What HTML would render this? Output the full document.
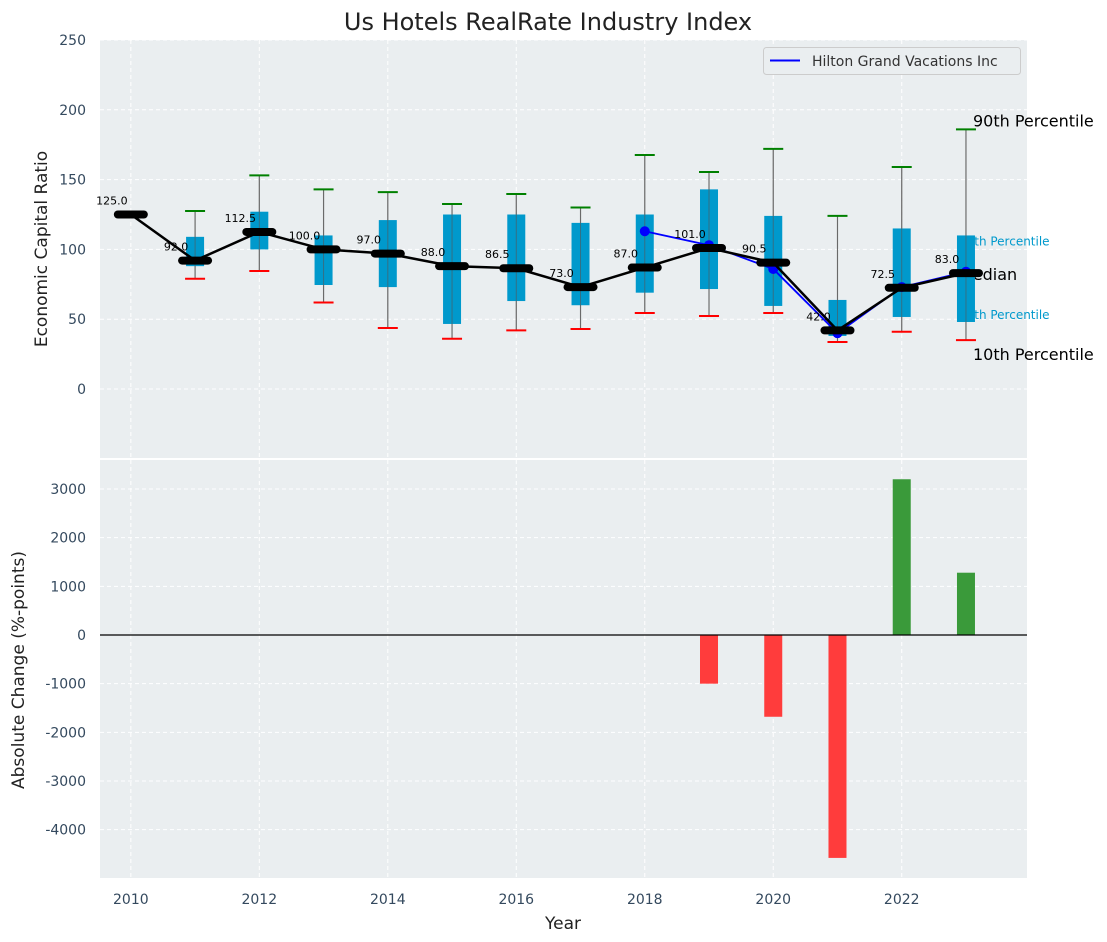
<!DOCTYPE html>
<html><head><meta charset="utf-8"><style>
body{margin:0;background:#fff;}
svg{display:block;font-family:"DejaVu Sans","Liberation Sans",sans-serif;}
</style></head><body>
<svg id="chart" width="1107" height="942" xmlns="http://www.w3.org/2000/svg"></svg>
<script>
const years=[2010,2011,2012,2013,2014,2015,2016,2017,2018,2019,2020,2021,2022,2023];
const medians=[125,92,112.5,100,97,88,86.5,73,87,101,90.5,42,72.5,83];
const boxYears=[2011,2012,2013,2014,2015,2016,2017,2018,2019,2020,2021,2022,2023];
const p10=[79,84.5,62,43.7,36,42,43,54.4,52.3,54.4,33.7,41,35];
const p25=[88,100,74.5,73,46.6,63,60,69,71.6,59.5,38,51.6,48];
const p75=[109,127,110,121,125,125,119,125,143,124,63.8,115,110];
const p90=[127.5,153,143,141,132.5,139.7,130,167.6,155.4,172,124,159,186];
const hgvYears=[2018,2019,2020,2021,2022,2023];
const hgvValues=[113,103,86,40,73,84];
const chgYears=[2019,2020,2021,2022,2023];
const chgValues=[-1000,-1680,-4580,3200,1280];
const topTicks=[0,50,100,150,200,250];
const botTicks=[-4000,-3000,-2000,-1000,0,1000,2000,3000];
const xTicks=[2010,2012,2014,2016,2018,2020,2022];

const svg=document.getElementById('chart');
const NS='http://www.w3.org/2000/svg';
function el(tag,attrs,parent,text){const e=document.createElementNS(NS,tag);for(const k in attrs)e.setAttribute(k,attrs[k]);if(text!==undefined)e.textContent=text;(parent||svg).appendChild(e);return e;}
const L=100,R=1027,T1=40,B1=458,T2=460,B2=878;
const xmin=2009.52,xmax=2023.95;
const X=v=>L+(v-xmin)/(xmax-xmin)*(R-L);
const Y1=v=>389-v*1.396;
const Y2=v=>635-v*0.04867;

let g;
g=el('rect',{x:L,y:T1,width:R-L,height:B1-T1,fill:'#eaeef0'});

g=el('rect',{x:L,y:T2,width:R-L,height:B2-T2,fill:'#eaeef0'});


xTicks.forEach(t=>{
  [[T1,B1],[T2,B2]].forEach(p=>{el('line',{x1:X(t),x2:X(t),y1:p[0],y2:p[1],stroke:'#fff','stroke-dasharray':'4,3','stroke-width':1});});
});
topTicks.forEach(t=>{
  el('line',{x1:L,x2:R,y1:Y1(t),y2:Y1(t),stroke:'#fff','stroke-dasharray':'4,3'});
  const tx=el('text',{x:86,y:Y1(t)+5,'text-anchor':'end','font-size':14,fill:'#34495e'},null,t);
  
});
botTicks.forEach(t=>{
  el('line',{x1:L,x2:R,y1:Y2(t),y2:Y2(t),stroke:'#fff','stroke-dasharray':'4,3'});
  const tx=el('text',{x:86,y:Y2(t)+5,'text-anchor':'end','font-size':14,fill:'#34495e'},null,t);
  
});
xTicks.forEach(t=>{
  const tx=el('text',{x:X(t),y:904,'text-anchor':'middle','font-size':14,fill:'#34495e'},null,t);
  
});

// legend (drawn before annotations so 90th label stays visible)
const lg=el('g',{});

el('rect',{x:763.5,y:47.5,width:257,height:27,rx:3,fill:'#eaeef0',stroke:'#ccc'},lg);
el('line',{x1:770,x2:800,y1:60.5,y2:60.5,stroke:'blue','stroke-width':2},lg);
el('text',{x:812,y:66,'font-size':14,fill:'#333'},lg,'Hilton Grand Vacations Inc');

const last=boxYears.length-1;
const ax=X(2023)+7;
g=el('text',{x:ax,y:Y1(p90[last])-3,'font-size':16,fill:'#000'},null,'90th Percentile');

g=el('text',{x:X(2023)-7,y:Y1(p75[last])+10,'font-size':12,fill:'#0099cc'},null,'75th Percentile');

g=el('text',{x:X(2023)-7,y:Y1(p25[last])-3,'font-size':12,fill:'#0099cc'},null,'25th Percentile');

g=el('text',{x:X(2023)-7,y:Y1(medians[13])+7,'font-size':16,fill:'#000'},null,'Median');

g=el('text',{x:ax,y:Y1(p10[last])+20,'font-size':16,fill:'#000'},null,'10th Percentile');


boxYears.forEach((yr,i)=>{
  const cx=X(yr);
  el('line',{x1:cx,x2:cx,y1:Y1(p90[i]),y2:Y1(p10[i]),stroke:'#888','stroke-width':1.2});
  const b=el('rect',{x:cx-9,y:Y1(p75[i]),width:18,height:Y1(p25[i])-Y1(p75[i]),fill:'#0099cc'});
  
  el('line',{x1:cx,x2:cx,y1:Y1(p90[i]),y2:Y1(p10[i]),stroke:'#555','stroke-width':1,'stroke-opacity':0.6});
  const h=el('line',{x1:cx-10,x2:cx+10,y1:Y1(p90[i]),y2:Y1(p90[i]),stroke:'green','stroke-width':2});
  
  const lo=el('line',{x1:cx-10,x2:cx+10,y1:Y1(p10[i]),y2:Y1(p10[i]),stroke:'red','stroke-width':2});
  
});

g=el('polyline',{points:hgvYears.map((y,i)=>X(y)+','+Y1(hgvValues[i])).join(' '),fill:'none',stroke:'blue','stroke-width':1.8});

hgvYears.forEach((y,i)=>{const c=el('circle',{cx:X(y),cy:Y1(hgvValues[i]),r:5,fill:'blue'});
});

g=el('polyline',{points:years.map((y,i)=>X(y)+','+Y1(medians[i])).join(' '),fill:'none',stroke:'#000','stroke-width':2.5});

years.forEach((y,i)=>{
  const m=el('line',{x1:X(y)-13,x2:X(y)+13,y1:Y1(medians[i]),y2:Y1(medians[i]),stroke:'#000','stroke-width':8,'stroke-linecap':'round'});
  
  const t=el('text',{x:X(y)-19,y:Y1(medians[i])-10,'text-anchor':'middle','font-size':11,fill:'#000'},null,medians[i].toFixed(1));
  
});

chgYears.forEach((y,i)=>{
  const v=chgValues[i];
  const b=el('rect',{x:X(y)-9,y:Math.min(Y2(v),Y2(0)),width:18,height:Math.abs(Y2(v)-Y2(0)),fill:v>=0?'#3a9a3a':'#ff3c3c'});
  
});
el('line',{x1:L,x2:R,y1:Y2(0),y2:Y2(0),stroke:'#000','stroke-width':1.2});

g=el('text',{x:548,y:30,'text-anchor':'middle','font-size':24,fill:'#222'},null,'Us Hotels RealRate Industry Index');

g=el('text',{x:47,y:249,'text-anchor':'middle','font-size':17,fill:'#222',transform:'rotate(-90 47 249)'},null,'Economic Capital Ratio');

g=el('text',{x:24,y:670,'text-anchor':'middle','font-size':17,fill:'#222',transform:'rotate(-90 24 670)'},null,'Absolute Change (%-points)');

g=el('text',{x:563,y:929,'text-anchor':'middle','font-size':17,fill:'#222'},null,'Year');

</script>
</body></html>
